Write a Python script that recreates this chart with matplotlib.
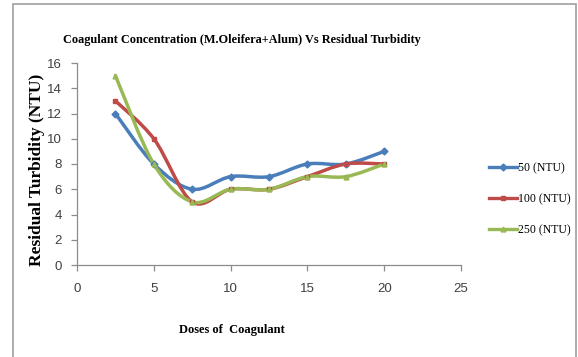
import numpy as np
import matplotlib
matplotlib.use("Agg")
import matplotlib.pyplot as plt
from matplotlib.path import Path
from matplotlib.patches import PathPatch, Rectangle
from matplotlib.lines import Line2D

doses = [2.5, 5, 7.5, 10, 12.5, 15, 17.5, 20]
turb_50 = [12, 8, 6, 7, 7, 8, 8, 9]
turb_100 = [13, 10, 5, 6, 6, 7, 8, 8]
turb_250 = [15, 8, 5, 6, 6, 7, 7, 8]

series_labels = ["50 (NTU)", "100 (NTU)", "250 (NTU)"]
colors = ["#4a7ebb", "#be4b48", "#98b954"]
markers = ["D", "s", "^"]

x_ticks = [0, 5, 10, 15, 20, 25]
y_ticks = [0, 2, 4, 6, 8, 10, 12, 14, 16]


def smooth_path(x, y):
    """Bezier path through points with Excel-style smoothing."""
    pts = np.column_stack([x, y]).astype(float)
    n = len(pts)
    verts = [pts[0]]
    codes = [Path.MOVETO]
    for i in range(n - 1):
        p0 = pts[i - 1] if i > 0 else pts[i]
        p1 = pts[i]
        p2 = pts[i + 1]
        p3 = pts[i + 2] if i + 2 < n else pts[i + 1]
        c1 = p1 + (p2 - p0) / 6.0
        c2 = p2 - (p3 - p1) / 6.0
        verts += [c1, c2, p2]
        codes += [Path.CURVE4] * 3
    return Path(verts, codes)


fig = plt.figure(figsize=(5.78, 3.57), dpi=100)
fig.patch.set_facecolor("white")

# outer chart frame
fig.add_artist(Rectangle((13 / 578, -0.02), (576 - 13) / 578, 1 - 4 / 357 + 0.02,
                         transform=fig.transFigure, fill=False,
                         edgecolor="#a0a0a0", linewidth=1.2))

ax = fig.add_axes([77 / 578, 1 - 265 / 357, (461 - 77) / 578, (265 - 63) / 357])

for ys, c, m in zip([turb_50, turb_100, turb_250], colors, markers):
    ax.add_patch(PathPatch(smooth_path(doses, ys), facecolor="none",
                           edgecolor=c, linewidth=2.5, capstyle="round",
                           joinstyle="round"))
    ax.plot(doses, ys, linestyle="none", marker=m, markersize=3.5,
            color=c, markeredgecolor=c)

ax.set_xlim(0, 25)
ax.set_ylim(0, 16)
ax.set_xticks(x_ticks)
ax.set_yticks(y_ticks)

for s in ["top", "right"]:
    ax.spines[s].set_visible(False)
for s in ["left", "bottom"]:
    ax.spines[s].set_color("#8c8c8c")
    ax.spines[s].set_linewidth(0.9)
ax.tick_params(axis="both", direction="out", length=4, width=0.9,
               color="#8c8c8c", labelsize=9.5, labelcolor="#404040")
ax.tick_params(axis="x", pad=9)
ax.tick_params(axis="y", pad=7)
for lab in ax.get_xticklabels() + ax.get_yticklabels():
    lab.set_fontfamily("Liberation Sans")

fig.text(242 / 578, 1 - 40 / 357,
         "Coagulant Concentration (M.Oleifera+Alum) Vs Residual Turbidity",
         ha="center", va="center", fontsize=8.8, fontweight="bold",
         family="Liberation Serif")
fig.text(232 / 578, 1 - 330 / 357, "Doses of  Coagulant",
         ha="center", va="center", fontsize=9, fontweight="bold",
         family="Liberation Serif")
fig.text(37 / 578, 1 - 170 / 357, "Residual Turbidity (NTU)",
         ha="center", va="center", rotation=90, fontsize=12.5,
         fontweight="bold", family="Liberation Serif")

handles = [Line2D([], [], color=c, marker=m, markersize=3.5, linewidth=2.4)
           for c, m in zip(colors, markers)]
fig.legend(handles, series_labels, loc="center left",
           bbox_to_anchor=(478 / 578, 1 - 199 / 357), frameon=False,
           prop={"family": "Liberation Serif", "size": 8.5},
           handlelength=2.4, handletextpad=0.1, labelspacing=1.6)

fig.savefig("out.png", dpi=100, facecolor="white")
